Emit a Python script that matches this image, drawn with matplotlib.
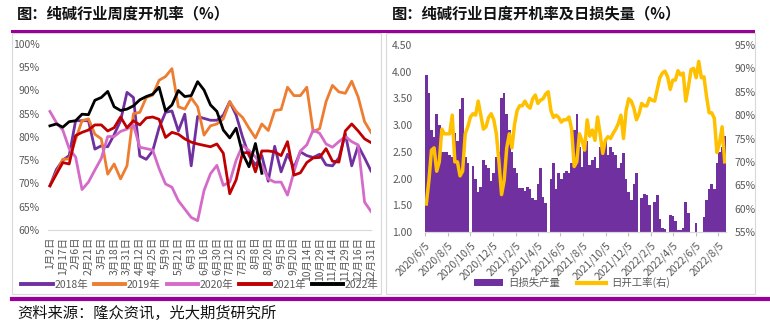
import matplotlib.pyplot as plt
from matplotlib.patches import Rectangle, Patch
from matplotlib.lines import Line2D
import numpy as np
import pandas as pd

plt.rcParams['font.family'] = ['Noto Sans CJK SC', 'DejaVu Sans']

# 周度开机率 (%), 每年 51 周
week_labels = ['1月2日', '1月17日', '2月6日', '2月21日', '3月5日', '3月18日', '3月31日',
               '4月12日', '4月25日', '5月9日', '5月21日', '6月3日', '6月16日', '6月30日',
               '7月12日', '7月25日', '8月8日', '8月20日', '9月5日', '9月20日', '10月14日',
               '10月29日', '11月14日', '11月29日', '12月16日', '12月31日']

y2018 = [69.5, 73, 75, 76, 83.5, 83.5, 83.5, 77.4, 78.1, 77.9, 80.5, 83.5, 89.6, 88.5, 75.9,
         75.2, 77.0, 82.0, 85.3, 85.6, 81.3, 84.9, 73.8, 84.4, 84.0, 83.6, 83.6, 84.7, 87.6,
         84.7, 80, 76, 74, 76, 70.5, 78, 72.5, 76.3, 73.4, 76.8, 76, 75.6, 76.3, 74, 73.8,
         75.5, 80.7, 73.8, 78.1, 75.5, 72.7]
y2019 = [69.5, 72.3, 75.2, 75.3, 79.5, 83.5, 83.9, 80.6, 79.6, 72, 74.2, 71, 73.8, 85, 85.3,
         88.5, 89, 92.2, 93, 94.7, 86.5, 86, 88.4, 86.5, 80.4, 82.4, 82.8, 83.9, 87.6, 85.5,
         84.2, 81.9, 79.8, 82.8, 81.4, 85.7, 85.9, 90.7, 88.9, 88.9, 90.7, 81.1, 81.8, 87.6,
         91.1, 89.7, 89.4, 92.0, 88.6, 83.3, 81]
y2020 = [85.5, 83.1, 81.5, 77.5, 75.7, 68.7, 70.3, 72.9, 75.4, 80.1, 80.1, 81.2, 81.7, 82.6,
         77.8, 77.5, 77.2, 73.2, 69.9, 69.2, 66.3, 64.5, 62.7, 62.0, 68.5, 72.1, 73.9, 69.6,
         70.3, 75, 78.2, 77.1, 75.7, 73.9, 71.0, 70.3, 70.3, 67.5, 72.5, 77, 78.3, 81.5, 80.8,
         78.5, 77.8, 79, 80.1, 79, 78.3, 66, 64]
y2021 = [69.5, 72, 74.5, 74.2, 80.3, 81, 81.5, 82.6, 82.6, 81.3, 82, 84.3, 82, 83.5, 82.6,
         84.1, 84.3, 83.8, 79.9, 81, 80.6, 79.6, 78.9, 78.5, 78.2, 77.9, 78.5, 76.5, 67.8,
         70.8, 76.6, 76.6, 72.5, 77, 77, 76.8, 76, 79, 71.8, 72.3, 74.5, 75.5, 75.6, 77.5,
         74.8, 74.6, 81.3, 82.8, 81.3, 79.6, 78.8]
y2022 = [82.4, 82.8, 82.1, 83.3, 83.5, 84.9, 84.8, 87.9, 88.5, 89.8, 86.5, 85.7, 86.0, 86.7,
         88.0, 88.7, 89.2, 90.7, 85.6, 86.9, 90.0, 88.7, 88.9, 91.9, 90.1, 86.9, 85.5, 81.5,
         79.8, 81.9, 76.5, 73.6, 78.6, 72.2]

years = ['2018年', '2019年', '2020年', '2021年', '2022年']
year_colors = ['#7030A0', '#ED7D31', '#D56BC8', '#C00000', '#000000']

# 日度数据 (按周取值): 日损失产量 与 日开工率 (%)
start_date = '2020-06-05'
daily_loss = [3.94, 3.6, 2.9, 2.78, 3.2, 3.0, 2.5, 2.5, 2.5, 2.45, 2.4, 2.85, 2.7, 3.3, 3.5,
              2.4, 2.3, 0, 2.24, 2.0, 1.75, 1.85, 2.35, 2.25, 2.2, 1.95, 2.1, 2.4, 2.5, 3.5,
              3.6, 3.2, 2.9, 2.5, 2.2, 2.1, 1.82, 1.82, 1.77, 1.85, 1.8, 1.63, 1.6, 1.9, 2.2,
              1.66, 1.55, 0, 2.0, 2.3, 1.8, 2.1, 2.0, 2.1, 2.15, 2.1, 2.3, 2.9, 3.2, 2.6,
              2.22, 2.55, 2.7, 2.25, 2.35, 2.4, 2.2, 2.6, 2.6, 2.7, 2.45, 2.6, 2.5, 2.45, 2.2,
              2.3, 2.48, 2.0, 1.75, 1.6, 1.9, 2.1, 0, 1.63, 1.72, 1.7, 1.5, 0, 1.57, 1.7,
              1.25, 1.08, 1.05, 1.0, 1.32, 1.3, 1.2, 1.03, 1.03, 1.07, 1.57, 1.35, 1.0, 1.0,
              1.16, 1.0, 1.0, 1.28, 1.6, 1.8, 1.9, 1.8, 2.3, 2.5, 2.6, 2.8]
daily_rate = [61, 66, 72.5, 73, 68, 70, 77, 76, 76, 76, 80, 70, 70, 67, 68, 76, 77.5, 79.6,
              80.3, 80, 83, 80, 77, 77.5, 79.5, 80.3, 79, 76, 70, 63, 66, 73, 76, 73, 78, 81,
              82, 82, 83, 82, 81.5, 83.5, 84.3, 82.5, 83.2, 83.5, 84.5, 85, 81, 79.5, 80,
              79.5, 78.5, 79, 79, 79.6, 77, 69, 70, 76, 74.6, 72.5, 79, 75.5, 76.8, 74.6,
              79.6, 76, 71.8, 74.6, 75.4, 75, 76.1, 77, 78.2, 80, 75, 81, 83.5, 83, 81.5, 79,
              80.3, 82.5, 82, 82, 83.6, 83.2, 83, 85.5, 88, 89, 89.4, 88.2, 85.5, 87.5, 87.5,
              89.5, 88.6, 89, 83, 86, 89.7, 90, 88, 91.5, 88, 88.2, 84, 80.5, 80.5, 79.3, 72,
              74, 77.5, 70]

W, H = 770, 331
GRAY = '#595959'


def fx(x):
    return x / W


def fy(y):
    return 1 - y / H


fig = plt.figure(figsize=(7.7, 3.31), dpi=100)

# 面板边框与紫色分隔线
for x0, x1 in [(12, 381), (386, 755)]:
    fig.add_artist(Rectangle((fx(x0), fy(294)), (x1 - x0) / W, (294 - 33) / H,
                             fill=False, edgecolor='#D9D9D9', lw=0.8,
                             transform=fig.transFigure))
fig.add_artist(Line2D([fx(12), fx(753)], [fy(31), fy(31)], color='#990099', lw=2.2,
                      transform=fig.transFigure))
fig.add_artist(Line2D([fx(12), fx(770)], [fy(298.5), fy(298.5)], color='#990099', lw=3,
                      transform=fig.transFigure))

fig.text(fx(17), fy(13), '图：纯碱行业周度开机率（%）', fontsize=11, fontweight='bold',
         va='center', color='#111111')
fig.text(fx(392), fy(13), '图：纯碱行业日度开机率及日损失量（%）', fontsize=11,
         fontweight='bold', va='center', color='#111111')
fig.text(fx(17), fy(313), '资料来源：隆众资讯，光大期货研究所', fontsize=11, va='center',
         color='#111111')

# 左图：周度开机率
ax1 = fig.add_axes([fx(48), fy(230), (371 - 48) / W, (230 - 44) / H])
for vals, name, c in zip([y2018, y2019, y2020, y2021, y2022], years, year_colors):
    ax1.plot(np.arange(len(vals)), np.array(vals) / 100, color=c, lw=2, label=name)
ax1.set_xlim(-0.3, 50)
ax1.set_ylim(0.60, 1.00)
ax1.set_yticks(np.arange(0.60, 1.001, 0.05))
ax1.set_yticklabels([f'{v}%' for v in range(60, 101, 5)])
ax1.set_xticks(np.arange(0, 51, 2))
ax1.set_xticklabels(week_labels, rotation=90, va='top')
ax1.tick_params(length=0, labelsize=7.5, labelcolor=GRAY)
ax1.tick_params(axis='y', pad=6)
ax1.tick_params(axis='x', pad=5)
for s in ['top', 'left', 'right']:
    ax1.spines[s].set_visible(False)
ax1.spines['bottom'].set_color('#D9D9D9')
leg1 = ax1.legend(ncol=5, loc='center', bbox_to_anchor=(fx(200), fy(285)),
                  bbox_transform=fig.transFigure, frameon=False, fontsize=7.5,
                  handlelength=3, handletextpad=0.15, columnspacing=0.6)
for t in leg1.get_texts():
    t.set_color(GRAY)
for h in leg1.get_lines():
    h.set_linewidth(2.8)

# 右图：日损失产量 (柱) 与 日开工率 (线, 右轴)
dates = pd.date_range(start_date, periods=len(daily_loss), freq='7D')
axb = fig.add_axes([fx(425), fy(232), (726 - 425) / W, (232 - 45) / H])
axb.bar(dates, daily_loss, width=7, align='edge', color='#7030A0', linewidth=0,
        label='日损失产量')
axb.set_ylim(1.0, 4.5)
axb.set_yticks(np.arange(1.0, 4.51, 0.5))
axb.set_yticklabels([f'{v:.2f}' for v in np.arange(1.0, 4.51, 0.5)])
axb.set_xlim(pd.Timestamp(start_date), pd.Timestamp('2022-08-26'))
ticks = pd.date_range('2020-06-01', '2022-08-01', freq='2MS') + pd.Timedelta(days=4)
axb.set_xticks(ticks)
axb.set_xticklabels([f'{d.year}/{d.month}/{d.day}' for d in ticks], rotation=45,
                    ha='right', rotation_mode='anchor')
axb.tick_params(axis='y', length=0, labelsize=7.5, labelcolor=GRAY, pad=9)
axb.tick_params(axis='x', length=3, color='#BFBFBF', labelsize=7.5, labelcolor=GRAY, pad=3)

axr = axb.twinx()
axr.plot(dates + pd.Timedelta(days=3.5), np.array(daily_rate) / 100, color='#FFC000', lw=2.5,
         label='日开工率(右)')
axr.set_ylim(0.55, 0.95)
axr.set_yticks(np.arange(0.55, 0.951, 0.05))
axr.set_yticklabels([f'{v}%' for v in range(55, 96, 5)])
axr.tick_params(axis='y', length=0, labelsize=7.5, labelcolor=GRAY, pad=6)
for a in (axb, axr):
    for s in ['top', 'left', 'right']:
        a.spines[s].set_visible(False)
    a.spines['bottom'].set_color('#D9D9D9')

handles = [Patch(facecolor='#7030A0', edgecolor='none', label='日损失产量'),
           Line2D([], [], color='#FFC000', lw=3, label='日开工率(右)')]
leg2 = axb.legend(handles=handles, ncol=2, loc='center', bbox_to_anchor=(fx(572), fy(283)),
                  bbox_transform=fig.transFigure, frameon=False, fontsize=7.5,
                  handlelength=2.8, handleheight=0.6, handletextpad=0.5, columnspacing=1.6)
for t in leg2.get_texts():
    t.set_color(GRAY)

fig.savefig('out.png', dpi=100)
